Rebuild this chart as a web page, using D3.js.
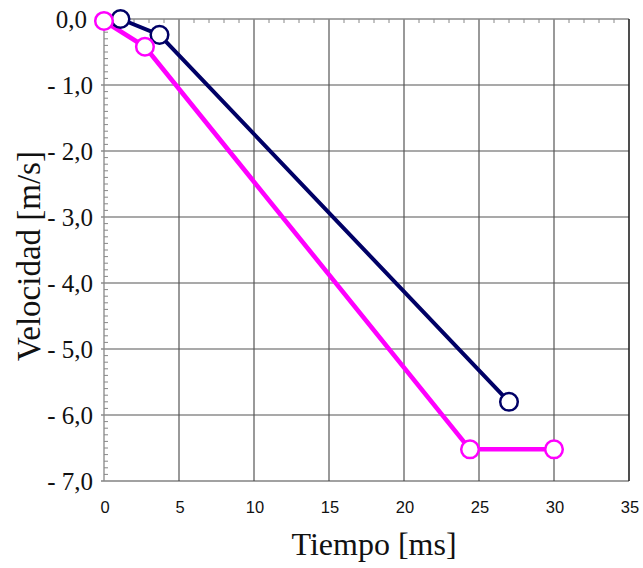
<!DOCTYPE html>
<html>
<head>
<meta charset="utf-8">
<script src="https://cdn.jsdelivr.net/npm/d3@7"></script>
<style>
  html, body { margin: 0; padding: 0; background: #fff; }
  svg { display: block; }
</style>
</head>
<body>
<svg id="chart" width="643" height="568"></svg>
<script>
// ---- data ----
const navyTime = [1.1, 3.7, 27.0];
const navyVel  = [0.0, -0.24, -5.8];
const pinkTime = [0.0, 2.73, 24.4, 30.0];
const pinkVel  = [-0.03, -0.42, -6.52, -6.52];

const xTicks = [0, 5, 10, 15, 20, 25, 30, 35];
const xTickLabels = ["0", "5", "10", "15", "20", "25", "30", "35"];
const yTicks = [0, -1, -2, -3, -4, -5, -6, -7];
const yTickLabels = ["0,0", "- 1,0", "- 2,0", "- 3,0", "- 4,0", "- 5,0", "- 6,0", "- 7,0"];

const xTitle = "Tiempo [ms]";
const yTitle = "Velocidad [m/s]";

(function () {
// ---- layout ----
const svg = d3.select("#chart");
const pl = 104, pr = 629, pt = 19, pb = 481;
const x = d3.scaleLinear().domain([0, 35]).range([pl, pr]);
const y = d3.scaleLinear().domain([0, -7]).range([pt, pb]);

const gridColor = "#555";
const serif = "Liberation Serif, Times New Roman, serif";

// vertical grid lines
svg.append("g").selectAll("line").data(xTicks.slice(1, -1)).join("line")
  .attr("x1", d => x(d)).attr("x2", d => x(d))
  .attr("y1", pt).attr("y2", pb)
  .attr("stroke", gridColor).attr("stroke-width", 1.2);

// horizontal grid lines (with small outward tick)
svg.append("g").selectAll("line").data(yTicks.slice(1)).join("line")
  .attr("x1", pl - 3).attr("x2", pr)
  .attr("y1", d => y(d)).attr("y2", d => y(d))
  .attr("stroke", d => d === -7 ? "#444" : gridColor).attr("stroke-width", 1.2);

// top border
svg.append("line").attr("x1", pl - 3).attr("x2", pr).attr("y1", pt).attr("y2", pt)
  .attr("stroke", "#888").attr("stroke-width", 1.5);
// right border
svg.append("line").attr("x1", pr).attr("x2", pr).attr("y1", pt).attr("y2", pb)
  .attr("stroke", "#222").attr("stroke-width", 1.6);
// left axis line
svg.append("line").attr("x1", pl).attr("x2", pl).attr("y1", pt).attr("y2", pb)
  .attr("stroke", "#888").attr("stroke-width", 1.3);

// minor ticks on left axis (every 0.1 m/s)
const yMinor = d3.range(0, 70).filter(i => i % 10 !== 0).map(i => -i / 10);
svg.append("g").selectAll("line").data(yMinor).join("line")
  .attr("x1", pl).attr("x2", pl + 4)
  .attr("y1", d => y(d)).attr("y2", d => y(d))
  .attr("stroke", "#888").attr("stroke-width", 1);

// minor ticks on top axis (every 1 ms)
const xMinor = d3.range(1, 35).filter(d => d % 5 !== 0);
svg.append("g").selectAll("line").data(xMinor).join("line")
  .attr("x1", d => x(d)).attr("x2", d => x(d))
  .attr("y1", pt).attr("y2", pt + 4)
  .attr("stroke", "#888").attr("stroke-width", 1);

// y tick labels
svg.append("g").selectAll("text").data(yTicks).join("text")
  .attr("x", (d, i) => i === 0 ? 87 : 93)
  .attr("y", d => y(d) + 8.5)
  .attr("text-anchor", "end")
  .attr("font-family", serif)
  .attr("font-size", 25)
  .attr("fill", "#111")
  .text((d, i) => yTickLabels[i]);

// x tick labels
svg.append("g").selectAll("text").data(xTicks).join("text")
  .attr("x", d => x(d) + 1)
  .attr("y", 513)
  .attr("text-anchor", "middle")
  .attr("font-family", "Liberation Sans, Arial, sans-serif")
  .attr("font-size", 16.5)
  .attr("fill", "#111")
  .text((d, i) => xTickLabels[i]);

// axis titles
svg.append("text")
  .attr("x", 374).attr("y", 555)
  .attr("text-anchor", "middle")
  .attr("font-family", serif)
  .attr("font-size", 32)
  .attr("fill", "#111")
  .text(xTitle);

svg.append("text")
  .attr("transform", "translate(40,256) rotate(-90)")
  .attr("text-anchor", "middle")
  .attr("font-family", serif)
  .attr("font-size", 33)
  .attr("fill", "#111")
  .text(yTitle);

// series
const series = [
  { t: navyTime, v: navyVel, color: "#000066", width: 4 },
  { t: pinkTime, v: pinkVel, color: "#ff00ff", width: 4.6 }
];
const line = d3.line().x(d => x(d[0])).y(d => y(d[1]));

series.forEach(s => {
  const pts = s.t.map((t, i) => [t, s.v[i]]);
  svg.append("path").datum(pts)
    .attr("d", line)
    .attr("fill", "none")
    .attr("stroke", s.color)
    .attr("stroke-width", s.width)
    .attr("stroke-linejoin", "round");
});
series.forEach(s => {
  const pts = s.t.map((t, i) => [t, s.v[i]]);
  svg.append("g").selectAll("circle").data(pts).join("circle")
    .attr("cx", d => x(d[0])).attr("cy", d => y(d[1]))
    .attr("r", 8.8)
    .attr("fill", "#fff")
    .attr("stroke", s.color)
    .attr("stroke-width", 2.5);
});
})();
</script>
</body>
</html>
